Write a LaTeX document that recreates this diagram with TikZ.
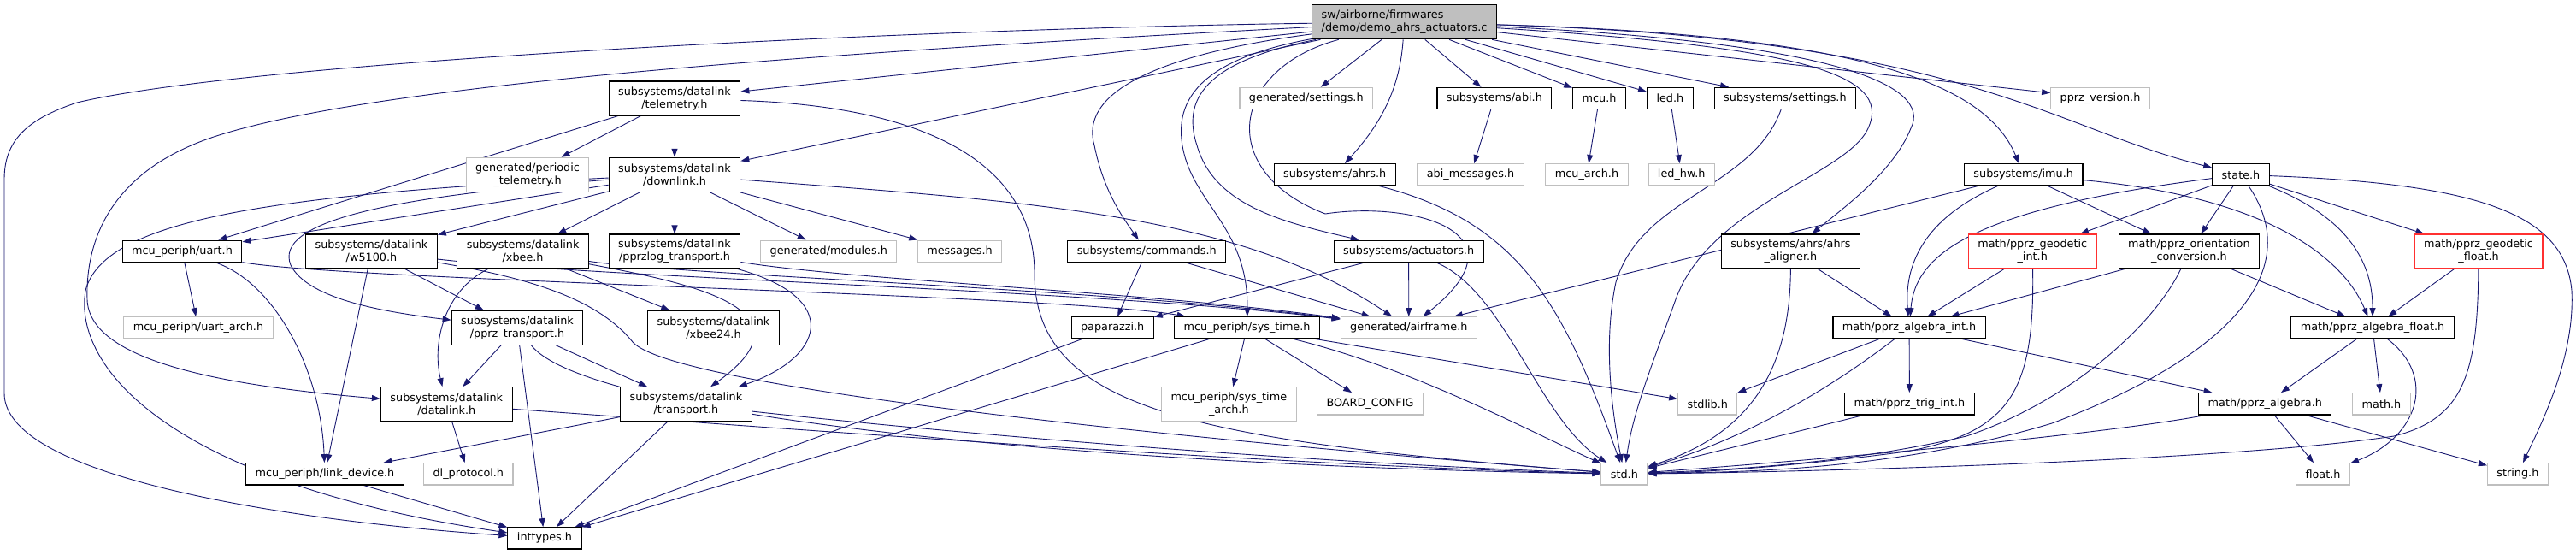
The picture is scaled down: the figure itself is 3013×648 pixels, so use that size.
\documentclass[tikz,border=0pt]{standalone}
\usepackage{fontspec}
\setmainfont{DejaVu Sans}
\usetikzlibrary{arrows.meta}
\definecolor{edgeblue}{HTML}{191970}
\definecolor{extgray}{HTML}{BFBFBF}
\definecolor{truncred}{HTML}{FF3030}
\pgfdeclarelayer{bg}
\pgfsetlayers{bg,main}

\begin{document}
\begin{tikzpicture}[x=1pt,y=-1pt,
  hdr/.style={draw=black,line width=1.1pt,fill=white,font=\fontsize{12.8}{15}\selectfont,
    inner xsep=11pt,inner ysep=2pt,minimum height=25.3pt,align=center},
  ext/.style={hdr,draw=extgray},
  trunc/.style={hdr,draw=truncred},
  two/.style={minimum height=40pt},
  inc/.style={draw=edgeblue,line width=0.9pt,-{Triangle[length=10pt,width=7pt]}}]
\useasboundingbox (0,0) rectangle (3013,648);

\node[hdr,fill=extgray,align=left,two] (main) at (1642.5,25.8) {sw/airborne/firmwares\\/demo/demo\_ahrs\_actuators.c};

\node[hdr,two] (telemetry) at (789,115) {subsystems/datalink\\/telemetry.h};
\node[ext,two] (periodic) at (617,204.3) {generated/periodic\\\_telemetry.h};
\node[hdr,two] (downlink) at (789,204.3) {subsystems/datalink\\/downlink.h};
\node[hdr] (uart) at (213,293.7) {mcu\_periph/uart.h};
\node[hdr,two] (w5100) at (434.5,294) {subsystems/datalink\\/w5100.h};
\node[hdr,two] (xbee) at (611.6,294) {subsystems/datalink\\/xbee.h};
\node[hdr,two] (pprzlog) at (789,294) {subsystems/datalink\\/pprzlog\_transport.h};
\node[ext] (modules) at (969.3,293.7) {generated/modules.h};
\node[ext] (messages) at (1122.5,293.7) {messages.h};
\node[ext] (uartarch) at (232,383.3) {mcu\_periph/uart\_arch.h};
\node[hdr,two] (pprztrans) at (605,383.3) {subsystems/datalink\\/pprz\_transport.h};
\node[hdr,two] (xbeetf) at (834.5,383.3) {subsystems/datalink\\/xbee24.h};
\node[hdr,two] (datalink) at (522.3,472.7) {subsystems/datalink\\/datalink.h};
\node[hdr,two] (transport) at (802.4,472.7) {subsystems/datalink\\/transport.h};
\node[hdr] (linkdev) at (380,554.3) {mcu\_periph/link\_device.h};
\node[ext] (dlproto) at (547.8,554.3) {dl\_protocol.h};
\node[hdr] (inttypes) at (637,629.3) {inttypes.h};

\node[ext] (gensettings) at (1527.8,115) {generated/settings.h};
\node[hdr] (abi) at (1747.9,115) {subsystems/abi.h};
\node[hdr] (ahrs) at (1561.2,204.3) {subsystems/ahrs.h};
\node[ext] (abimsg) at (1720,204.3) {abi\_messages.h};
\node[hdr] (commands) at (1341.2,293.7) {subsystems/commands.h};
\node[hdr] (actuators) at (1647.6,293.7) {subsystems/actuators.h};
\node[hdr] (paparazzi) at (1301.2,383.3) {paparazzi.h};
\node[hdr] (systime) at (1458.6,383.3) {mcu\_periph/sys\_time.h};
\node[ext] (airframe) at (1647.8,383.3) {generated/airframe.h};
\node[ext,two] (systimearch) at (1437.3,472.7) {mcu\_periph/sys\_time\\\_arch.h};
\node[ext] (board) at (1602.5,472.3) {BOARD\_CONFIG};

\node[hdr] (mcu) at (1870.6,115) {mcu.h};
\node[hdr] (led) at (1953.4,115) {led.h};
\node[hdr] (subsettings) at (2087.9,115) {subsystems/settings.h};
\node[ext] (mcuarch) at (1856,204.3) {mcu\_arch.h};
\node[ext] (ledhw) at (1966.7,204.3) {led\_hw.h};
\node[ext] (version) at (2456.5,115) {pprz\_version.h};
\node[hdr] (imu) at (2366.7,204.3) {subsystems/imu.h};
\node[hdr,two] (aligner) at (2094.4,294) {subsystems/ahrs/ahrs\\\_aligner.h};
\node[trunc,two] (geoint) at (2377.2,294) {math/pprz\_geodetic\\\_int.h};
\node[hdr] (algint) at (2233.1,383.3) {math/pprz\_algebra\_int.h};
\node[ext] (stdlib) at (1997.3,472.3) {stdlib.h};
\node[hdr] (trigint) at (2233.4,472.3) {math/pprz\_trig\_int.h};
\node[ext] (std) at (1899.9,554.3) {std.h};

\node[hdr] (state) at (2621,204.3) {state.h};
\node[hdr,two] (orient) at (2560.4,294) {math/pprz\_orientation\\\_conversion.h};
\node[trunc,two] (geofloat) at (2899,294) {math/pprz\_geodetic\\\_float.h};
\node[hdr] (algfloat) at (2775,383.3) {math/pprz\_algebra\_float.h};
\node[hdr] (algebra) at (2649.3,472.3) {math/pprz\_algebra.h};
\node[ext] (math) at (2785.5,472.3) {math.h};
\node[ext] (float) at (2717,554.3) {float.h};
\node[ext] (string) at (2944.9,554.3) {string.h};

\begin{pgfonlayer}{bg}
% from the firmware file
\draw[inc] (main) .. controls (1100,33) and (300,70) .. (90,120) .. controls (30,140) and (5,165) .. (5,210) -- (5,460) .. controls (5,560) and (350,610) .. (inttypes);
\draw[inc] (main) .. controls (1000,60) and (450,95) .. (250,160) .. controls (130,200) and (100,280) .. (102,350) .. controls (104,420) and (250,450) .. (datalink);
\draw[inc] (main) -- (telemetry);
\draw[inc] (main) -- (downlink);
\draw[inc] (main) -- (gensettings);
\draw[inc] (main) .. controls (1637,110) and (1610,150) .. (ahrs);
\draw[inc] (main) -- (abi);
\draw[inc] (main) -- (mcu);
\draw[inc] (main) -- (led);
\draw[inc] (main) -- (subsettings);
\draw[inc] (main) -- (version);
\draw[inc] (main) .. controls (2150,40) and (2320,90) .. (imu);
\draw[inc] (main) .. controls (2300,45) and (2400,150) .. (state);
\draw[inc] (main) .. controls (2150,50) and (2260,100) .. (2235,150) .. controls (2215,200) and (2160,240) .. (aligner);
\draw[inc] (main) .. controls (2100,55) and (2215,85) .. (2185,150) .. controls (2160,205) and (2000,240) .. (1960,350) .. controls (1935,420) and (1910,480) .. (std);
\draw[inc] (main) .. controls (1380,60) and (1260,100) .. (1280,170) .. controls (1290,220) and (1310,250) .. (commands);
\draw[inc] (main) .. controls (1420,70) and (1380,110) .. (1400,170) .. controls (1420,240) and (1500,260) .. (actuators);
\draw[inc] (main) .. controls (1400,70) and (1370,120) .. (1385,180) .. controls (1400,240) and (1460,270) .. (systime);
\draw[inc] (main) .. controls (1440,80) and (1420,200) .. (1550,250) .. controls (1650,235) and (1790,270) .. (airframe);

% datalink headers
\draw[inc] (telemetry) -- (periodic);
\draw[inc] (telemetry) -- (downlink);
\draw[inc] (telemetry) -- (uart);
\draw[inc] (telemetry) .. controls (1100,125) and (1210,200) .. (1210,320) .. controls (1210,480) and (1400,515) .. (std);
\draw[inc] (downlink) -- (uart);
\draw[inc] (downlink) -- (w5100);
\draw[inc] (downlink) -- (xbee);
\draw[inc] (downlink) -- (pprzlog);
\draw[inc] (downlink) -- (modules);
\draw[inc] (downlink) -- (messages);
\draw[inc] (downlink) .. controls (1200,235) and (1450,250) .. (airframe);
\draw[inc] (downlink) .. controls (450,230) and (320,260) .. (340,310) .. controls (360,350) and (450,365) .. (pprztrans);
\draw[inc] (downlink) .. controls (300,228) and (120,260) .. (100,340) .. controls (85,430) and (200,565) .. (inttypes);
\draw[inc] (uart) -- (uartarch);
\draw[inc] (uart) .. controls (320,330) and (375,430) .. (linkdev);
\draw[inc] (uart) .. controls (400,328) and (1250,345) .. (systime);
\draw[inc] (w5100) -- (linkdev);
\draw[inc] (w5100) -- (pprztrans);
\draw[inc] (w5100) .. controls (700,325) and (1300,340) .. (airframe);
\draw[inc] (w5100) .. controls (620,325) and (700,350) .. (740,400) .. controls (790,455) and (1400,515) .. (std);
\draw[inc] (xbee) .. controls (520,340) and (505,400) .. (datalink);
\draw[inc] (xbee) -- (xbeetf);
\draw[inc] (xbee) .. controls (800,330) and (960,360) .. (transport);
\draw[inc] (xbee) .. controls (800,322) and (1300,338) .. (airframe);
\draw[inc] (pprzlog) .. controls (990,350) and (960,420) .. (transport);
\draw[inc] (pprzlog) .. controls (1000,328) and (1350,342) .. (airframe);
\draw[inc] (pprztrans) -- (datalink);
\draw[inc] (pprztrans) -- (transport);
\draw[inc] (pprztrans) -- (inttypes);
\draw[inc] (pprztrans) .. controls (690,490) and (1300,545) .. (std);
\draw[inc] (datalink) -- (dlproto);
\draw[inc] (datalink) .. controls (900,500) and (1500,545) .. (std);
\draw[inc] (transport) -- (linkdev);
\draw[inc] (transport) -- (inttypes);
\draw[inc] (transport) .. controls (1100,505) and (1500,540) .. (std);
\draw[inc] (linkdev) -- (inttypes);

% subsystems and periph
\draw[inc] (commands) -- (paparazzi);
\draw[inc] (commands) -- (airframe);
\draw[inc] (actuators) -- (paparazzi);
\draw[inc] (actuators) -- (airframe);
\draw[inc] (actuators) .. controls (1760,340) and (1800,490) .. (std);
\draw[inc] (paparazzi) -- (inttypes);
\draw[inc] (systime) -- (systimearch);
\draw[inc] (systime) -- (board);
\draw[inc] (systime) -- (inttypes);
\draw[inc] (systime) -- (stdlib);
\draw[inc] (systime) .. controls (1650,430) and (1780,500) .. (std);
\draw[inc] (ahrs) .. controls (1780,260) and (1830,360) .. (std);
\draw[inc] (abi) -- (abimsg);
\draw[inc] (mcu) -- (mcuarch);
\draw[inc] (led) -- (ledhw);
\draw[inc] (subsettings) .. controls (2050,220) and (1920,230) .. (1890,330) .. controls (1875,400) and (1885,480) .. (std);
\draw[inc] (aligner) .. controls (2094,440) and (2040,510) .. (std);
\draw[inc] (aligner) -- (algint);
\draw[inc] (imu) -- (airframe);
\draw[inc] (imu) .. controls (2240,260) and (2228,320) .. (algint);
\draw[inc] (imu) -- (orient);
\draw[inc] (imu) .. controls (2650,230) and (2740,300) .. (algfloat);

% math
\draw[inc] (geoint) -- (algint);
\draw[inc] (geoint) .. controls (2380,460) and (2350,505) .. (2230,528) .. controls (2100,545) and (2000,552) .. (std);
\draw[inc] (orient) -- (algint);
\draw[inc] (orient) .. controls (2520,380) and (2420,470) .. (2300,510) .. controls (2150,545) and (2000,550) .. (std);
\draw[inc] (orient) -- (algfloat);
\draw[inc] (state) -- (geoint);
\draw[inc] (state) -- (orient);
\draw[inc] (state) .. controls (2300,245) and (2240,300) .. (algint);
\draw[inc] (state) .. controls (2700,320) and (2600,420) .. (2400,495) .. controls (2200,555) and (2000,552) .. (std);
\draw[inc] (state) .. controls (2760,260) and (2775,320) .. (algfloat);
\draw[inc] (state) -- (geofloat);
\draw[inc] (state) .. controls (2900,215) and (3000,250) .. (3008,340) .. controls (3012,420) and (2970,500) .. (string);
\draw[inc] (geofloat) -- (algfloat);
\draw[inc] (geofloat) .. controls (2898,440) and (2880,490) .. (2800,510) .. controls (2600,540) and (2100,552) .. (std);
\draw[inc] (algfloat) -- (algebra);
\draw[inc] (algfloat) -- (math);
\draw[inc] (algfloat) .. controls (2850,440) and (2830,510) .. (float);
\draw[inc] (algebra) -- (float);
\draw[inc] (algebra) -- (string);
\draw[inc] (algebra) .. controls (2450,510) and (2100,540) .. (std);
\draw[inc] (algint) -- (stdlib);
\draw[inc] (algint) .. controls (2120,470) and (2020,520) .. (std);
\draw[inc] (algint) -- (trigint);
\draw[inc] (algint) -- (algebra);
\draw[inc] (trigint) -- (std);
\end{pgfonlayer}
\end{tikzpicture}
\end{document}
